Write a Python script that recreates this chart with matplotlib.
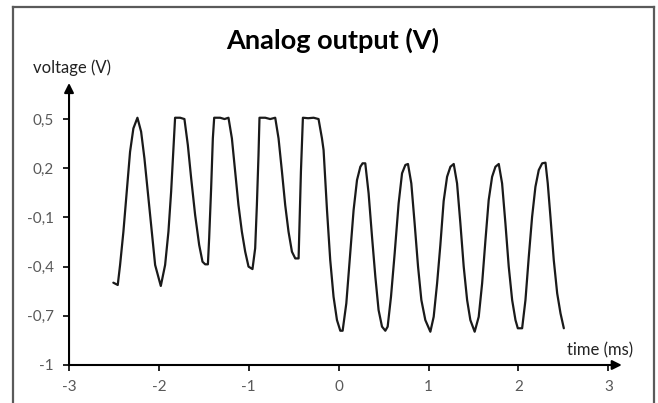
import matplotlib
matplotlib.use("Agg")
import matplotlib.pyplot as plt
from matplotlib.lines import Line2D

plt.rcParams.update({
    "font.family": ["Lato", "DejaVu Sans"],
    "font.size": 11,
    "axes.unicode_minus": False,
    "savefig.dpi": 100,
})

# time (ms) / voltage (V)
time_ms = [
    -2.507, -2.458, -2.432, -2.395, -2.358, -2.321, -2.284, -2.239, -2.198, -2.161,
    -2.124, -2.079, -2.042, -1.979, -1.931, -1.894, -1.864, -1.838, -1.820, -1.764,
    -1.716, -1.678, -1.641, -1.597, -1.552, -1.515, -1.485, -1.455, -1.441, -1.419,
    -1.400, -1.385, -1.319, -1.270, -1.226, -1.188, -1.151, -1.115, -1.077, -1.040,
    -1.003, -0.959, -0.929, -0.910, -0.892, -0.881, -0.817, -0.762, -0.706, -0.669,
    -0.631, -0.595, -0.558, -0.520, -0.483, -0.446, -0.435, -0.420, -0.398, -0.340,
    -0.279, -0.224, -0.186, -0.168, -0.150, -0.130, -0.094, -0.057, -0.019, 0.018,
    0.044, 0.085, 0.129, 0.166, 0.204, 0.241, 0.266, 0.296, 0.333, 0.371,
    0.408, 0.444, 0.482, 0.519, 0.545, 0.582, 0.623, 0.667, 0.705, 0.742,
    0.771, 0.808, 0.845, 0.883, 0.920, 0.964, 1.020, 1.057, 1.095, 1.131,
    1.168, 1.206, 1.243, 1.280, 1.317, 1.354, 1.391, 1.429, 1.465, 1.513,
    1.558, 1.596, 1.633, 1.669, 1.707, 1.744, 1.781, 1.818, 1.855, 1.892,
    1.930, 1.967, 1.993, 2.041, 2.078, 2.115, 2.152, 2.189, 2.226, 2.264,
    2.301, 2.326, 2.356, 2.393, 2.431, 2.468, 2.505,
]
voltage = [
    -0.498, -0.512, -0.390, -0.187, 0.057, 0.300, 0.443, 0.508, 0.423, 0.260,
    0.057, -0.187, -0.390, -0.518, -0.390, -0.187, 0.057, 0.321, 0.508, 0.508,
    0.500, 0.341, 0.138, -0.085, -0.268, -0.370, -0.386, -0.386, -0.227, 0.077,
    0.382, 0.508, 0.508, 0.500, 0.508, 0.382, 0.179, -0.024, -0.187, -0.309,
    -0.400, -0.415, -0.288, -0.024, 0.280, 0.508, 0.508, 0.500, 0.508, 0.382,
    0.179, -0.024, -0.187, -0.309, -0.350, -0.350, -0.126, 0.179, 0.508, 0.505,
    0.508, 0.500, 0.382, 0.311, 0.140, -0.055, -0.360, -0.584, -0.726, -0.791,
    -0.791, -0.624, -0.319, -0.055, 0.128, 0.209, 0.230, 0.230, 0.047, -0.218,
    -0.462, -0.665, -0.766, -0.791, -0.766, -0.584, -0.319, -0.014, 0.169, 0.220,
    0.226, 0.108, -0.136, -0.400, -0.604, -0.726, -0.797, -0.706, -0.502, -0.270,
    0.000, 0.148, 0.209, 0.226, 0.108, -0.136, -0.400, -0.604, -0.726, -0.797,
    -0.706, -0.502, -0.238, 0.006, 0.148, 0.209, 0.226, 0.108, -0.136, -0.400,
    -0.604, -0.726, -0.776, -0.776, -0.604, -0.340, -0.096, 0.087, 0.189, 0.230,
    0.234, 0.108, -0.096, -0.360, -0.563, -0.685, -0.776,
]

x_ticks = [-3, -2, -1, 0, 1, 2, 3]
y_ticks = [-1, -0.7, -0.4, -0.1, 0.2, 0.5]
y_tick_labels = ["-1", "-0,7", "-0,4", "-0,1", "0,2", "0,5"]

TICK_GREY = "#595959"


def main():
    fig = plt.figure(figsize=(6.58, 4.03))
    ax = fig.add_axes([0.1049, 0.0943, 0.8401, 0.6998])

    ax.plot(time_ms, voltage, color="#1a1a1a", lw=1.6,
            solid_joinstyle="round", solid_capstyle="round")

    ax.set_xlim(-3, 3.15)
    ax.set_ylim(-1, 0.72)
    for s in ax.spines.values():
        s.set_visible(False)

    # axes as arrows
    arrow = dict(arrowstyle="-|>", lw=1.5, color="black", mutation_scale=14,
                 shrinkA=0, shrinkB=0)
    ax.annotate("", xy=(0, 1), xytext=(0, 0), xycoords="axes fraction",
                arrowprops=arrow)
    ax.annotate("", xy=(1, 0), xytext=(0, 0), xycoords="axes fraction",
                arrowprops=arrow)

    ax.set_xticks(x_ticks)
    ax.set_yticks(y_ticks)
    ax.set_yticklabels(y_tick_labels)
    ax.tick_params(direction="out", length=4, width=1.2, color="black",
                   labelcolor=TICK_GREY, labelsize=11)
    ax.tick_params(axis="x", pad=7)
    ax.tick_params(axis="y", pad=7)

    fig.text(0.506, 0.90, "Analog output (V)", ha="center", va="center",
             fontsize=19.5, fontweight="bold")
    fig.text(0.109, 0.831, "voltage (V)", ha="center", va="center",
             fontsize=12, color="#222222")
    fig.text(0.9126, 0.1315, "time (ms)", ha="center", va="center",
             fontsize=12, color="#222222")

    # frame round the chart
    W, H = 658, 403
    kw = dict(color="#5a5a5a", lw=1.6, transform=fig.transFigure)
    fig.add_artist(Line2D([13 / W, 654 / W], [1 - 7 / H, 1 - 7 / H], **kw))
    fig.add_artist(Line2D([13 / W, 13 / W], [0, 1 - 7 / H], **kw))
    fig.add_artist(Line2D([654 / W, 654 / W], [0, 1 - 7 / H], **kw))

    fig.savefig("out.png")
    plt.close(fig)


if __name__ == "__main__":
    main()
